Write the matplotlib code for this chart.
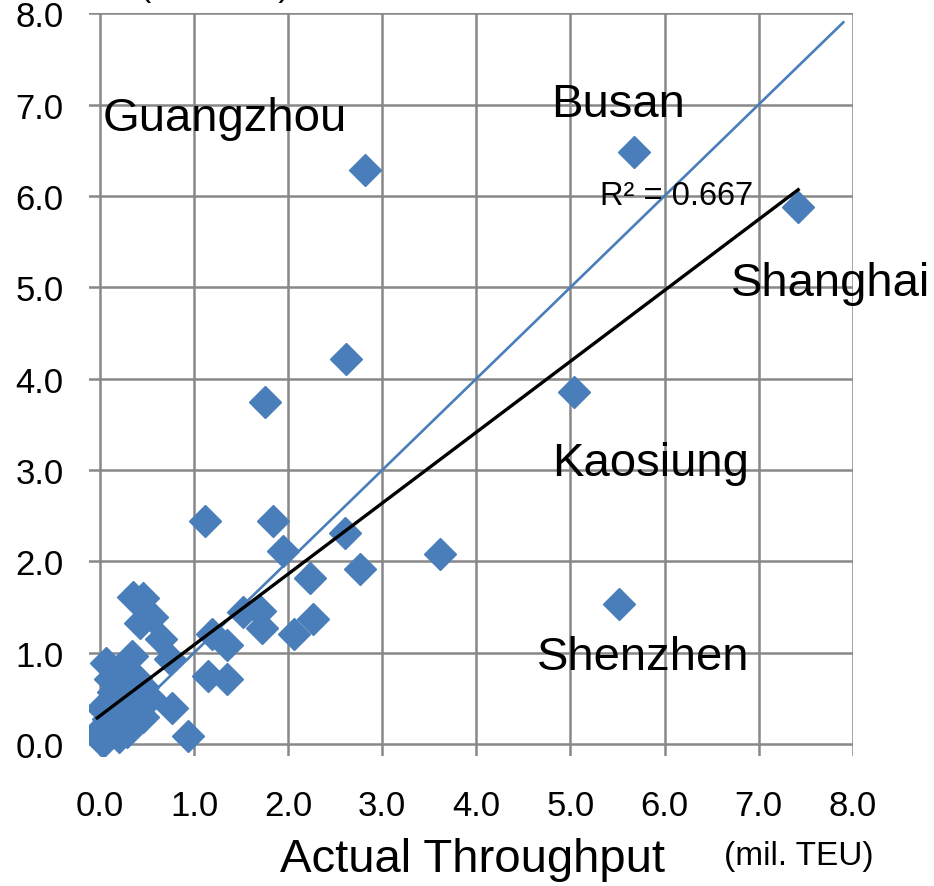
import numpy as np
import matplotlib
matplotlib.use('Agg')
import matplotlib.pyplot as plt

plt.rcParams['font.family'] = ['Liberation Sans', 'DejaVu Sans']

##-Data (mil. TEU)
actual = [5.67, 2.82, 7.42, 2.61, 1.75, 5.04, 1.12, 1.84, 1.94, 2.60,
          3.61, 2.23, 2.76, 5.52, 2.26, 1.52, 1.70, 1.72, 2.06, 1.19,
          1.35, 1.15, 1.35, 0.76, 0.93, 0.35, 0.46, 0.43, 0.55, 0.65,
          0.74, 0.34, 0.06, 0.11, 0.22, 0.53, 0.46, 0.35, 0.14, 0.21,
          0.29, 0.46, 0.02, -0.03, 0.03, 0.12, 0.20, 0.30, 0.40, 0.25,
          0.08, 0.15, 0.38, 0.05]
estimated = [6.48, 6.28, 5.88, 4.22, 3.74, 3.85, 2.44, 2.44, 2.11, 2.31,
             2.08, 1.82, 1.92, 1.53, 1.37, 1.45, 1.46, 1.27, 1.21, 1.20,
             1.08, 0.74, 0.71, 0.39, 0.09, 1.61, 1.60, 1.33, 1.39, 1.15,
             0.93, 0.96, 0.89, 0.71, 0.78, 0.50, 0.62, 0.53, 0.57, 0.31,
             0.13, 0.30, 0.40, 0.12, 0.02, 0.20, 0.08, 0.42, 0.45, 0.62,
             0.28, 0.45, 0.72, 0.10]

# trendline
trend_slope = 0.776
trend_intercept = 0.31
r_squared = 0.667

# 45 degree reference line
ref_x = [0.0, 7.9]

port_names = ['Guangzhou', 'Busan', 'Shanghai', 'Kaosiung', 'Shenzhen']
port_label_pos = [(0.03, 6.72), (4.79, 6.88), (6.71, 4.92), (4.80, 2.95), (4.64, 0.82)]

ticks = np.arange(0, 9, 1.0)
tick_labels = [f'{t:.1f}' for t in ticks]

blue = '#4a7ebb'

##-Figure
fig = plt.figure(figsize=(9.34, 8.87), dpi=100)
ax = fig.add_axes([0.095, 0.1466, 0.818, 0.8374])

ax.plot(ref_x, ref_x, color=blue, lw=1.9, zorder=2)
ax.plot(actual, estimated, linestyle='none', marker='D', ms=16,
        color=blue, mec=blue, zorder=3)

tx = np.array([min(actual), max(actual)])
ax.plot(tx, trend_slope * tx + trend_intercept, color='black', lw=2.4, zorder=4)

ax.text(5.31, 6.0, f'R² = {r_squared:.3f}', fontsize=23.5, va='center', ha='left', zorder=5)

for name, (px, py) in zip(port_names, port_label_pos):
    ax.text(px, py, name, fontsize=34, ha='left', va='baseline', zorder=5)

ax.set_xlim(-0.12, 8.0)
ax.set_ylim(-0.13, 8.0)
ax.set_xticks(ticks)
ax.set_yticks(ticks)
ax.set_xticklabels(tick_labels, fontsize=25)
ax.set_yticklabels(tick_labels, fontsize=25)
ax.tick_params(length=0)
ax.tick_params(axis='x', pad=24)
ax.tick_params(axis='y', pad=18)
ax.grid(True, color='#888888', lw=1.8)
ax.set_axisbelow(True)
for s in ax.spines.values():
    s.set_visible(False)

fig.text(0.506, 0.030, 'Actual Throughput', fontsize=34, ha='center', va='center')
fig.text(0.855, 0.034, '(mil. TEU)', fontsize=24, ha='center', va='center')
# y-axis unit, mostly cut off at the top edge
fig.text(0.23, 1 + 4 / 887, '(mil. TEU)', fontsize=24, ha='center', va='baseline')

fig.savefig('out.png', dpi=100)
